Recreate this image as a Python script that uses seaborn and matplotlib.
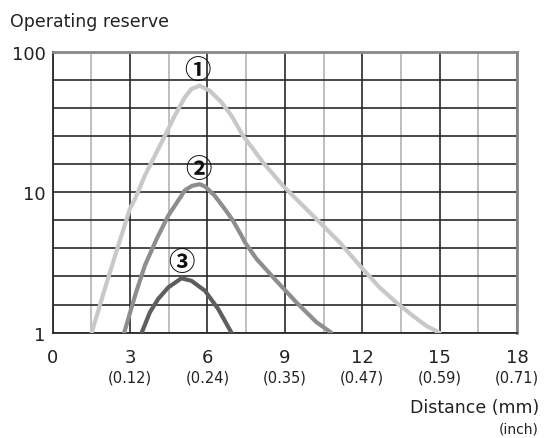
import numpy as np
import pandas as pd
import matplotlib
matplotlib.use("Agg")
import matplotlib.pyplot as plt
import matplotlib.transforms as mtransforms
import seaborn as sns

# ---- data ----
c1_x = [1.51, 2.02, 2.54, 2.99, 3.19, 3.57, 3.96, 4.35, 4.73, 5.12, 5.38, 5.70, 6.09, 6.54, 6.93,
        7.38, 7.77, 8.15, 8.93, 9.70, 10.48, 11.12, 12.02, 12.67, 13.32, 13.96, 14.48, 14.99]
c1_y = [1.00, 2.05, 4.16, 7.59, 8.95, 13.1, 18.2, 25.2, 35.0, 47.3, 54.3, 57.3, 52.7, 43.7, 35.0,
        25.2, 20.3, 16.3, 11.1, 8.02, 5.78, 4.40, 2.84, 2.10, 1.64, 1.32, 1.12, 1.00]

c2_x = [2.77, 3.19, 3.57, 4.03, 4.48, 4.99, 5.12, 5.40, 5.70, 5.90, 6.28, 6.67, 6.98, 7.32, 7.45,
        7.90, 8.67, 9.45, 10.22, 10.80]
c2_y = [1.00, 1.83, 3.00, 4.65, 6.81, 9.44, 10.3, 11.1, 11.4, 11.0, 9.44, 7.59, 6.31, 4.90, 4.40,
        3.35, 2.34, 1.64, 1.19, 1.00]

c3_x = [3.45, 3.77, 4.09, 4.48, 4.99, 5.38, 5.90, 6.41, 6.93]
c3_y = [1.00, 1.40, 1.74, 2.10, 2.44, 2.34, 1.99, 1.48, 1.00]

curve_names = ["①", "②", "③"]
label_x = [5.62, 5.63, 4.99]
label_y = [74.0, 14.6, 3.17]

x_ticks_mm = [0, 3, 6, 9, 12, 15, 18]
x_ticks_inch = ["", "(0.12)", "(0.24)", "(0.35)", "(0.47)", "(0.59)", "(0.71)"]
y_ticks = [1, 10, 100]
y_tick_labels = ["1", "10", "100"]

ylabel_text = "Operating reserve"
xlabel_mm = "Distance (mm)"
xlabel_inch = "(inch)"

# ---- build long-form table ----
frames = []
for name, xs, ys in zip(curve_names, [c1_x, c2_x, c3_x], [c1_y, c2_y, c3_y]):
    frames.append(pd.DataFrame({"distance": xs, "reserve": ys, "curve": name}))
df = pd.concat(frames, ignore_index=True)

sns.set_style("white")
plt.rcParams["font.family"] = ["DejaVu Sans"]

fig = plt.figure(figsize=(5.44, 4.39), dpi=100)
ax = fig.add_axes([0.0969, 0.2399, 0.9504 - 0.0969, 0.880 - 0.2399])

palette = {"①": "#c8c8c8", "②": "#8e8e8e", "③": "#5e5e5e"}
sns.lineplot(data=df, x="distance", y="reserve", hue="curve", palette=palette,
             sort=False, estimator=None, linewidth=3.0, legend=False, ax=ax,
             solid_capstyle="round", solid_joinstyle="round", zorder=3)

ax.set_yscale("log")
ax.set_xlim(0, 18)
ax.set_ylim(1, 100)

# grid
ax.set_xticks(x_ticks_mm)
ax.set_xticks(np.arange(1.5, 18, 3), minor=True)
ax.set_yticks(y_ticks)
ax.set_yticks([10 ** (k / 5) for k in range(1, 10) if k != 5], minor=True)
ax.set_yticklabels(y_tick_labels)
ax.set_xticklabels([str(v) for v in x_ticks_mm])
ax.yaxis.set_minor_formatter(matplotlib.ticker.NullFormatter())
ax.xaxis.set_minor_formatter(matplotlib.ticker.NullFormatter())

ax.grid(True, which="major", axis="both", color="#2a2a2a", linewidth=1.2, zorder=1)
ax.grid(True, which="minor", axis="y", color="#2a2a2a", linewidth=1.2, zorder=1)
ax.grid(True, which="minor", axis="x", color="#b4b4b4", linewidth=1.2, zorder=1)
ax.set_axisbelow(True)

ax.tick_params(axis="both", which="both", length=0)
ax.tick_params(axis="y", labelsize=13, pad=5, colors="#222222")
ax.tick_params(axis="x", labelsize=13, pad=11, colors="#222222")

for side in ["left", "bottom"]:
    ax.spines[side].set_color("#2a2a2a")
    ax.spines[side].set_linewidth(1.3)
for side in ["top", "right"]:
    ax.spines[side].set_color("#888888")
    ax.spines[side].set_linewidth(2.0)

ax.set_xlabel("")
ax.set_ylabel("")

# inch sub-labels
trans = mtransforms.blended_transform_factory(ax.transData, fig.transFigure)
for xv, lab in zip(x_ticks_mm, x_ticks_inch):
    if lab:
        ax.text(xv, 1 - 378 / 439, lab, transform=trans, ha="center", va="center",
                fontsize=10.5, color="#222222")

# curve markers
for name, lx, ly in zip(curve_names, label_x, label_y):
    ax.text(lx, ly, name, ha="center", va="center", fontsize=19, fontweight="bold",
            family=["Noto Sans CJK JP", "DejaVu Sans"], color="#111111", zorder=4)

fig.text(10 / 544, 1 - 22 / 439, ylabel_text, ha="left", va="center",
         fontsize=12.5, color="#222222")
fig.text(539 / 544, 1 - 408 / 439, xlabel_mm, ha="right", va="center",
         fontsize=12.5, color="#222222")
fig.text(539 / 544, 1 - 430 / 439, xlabel_inch, ha="right", va="center",
         fontsize=10, color="#222222")

fig.savefig("out.png", dpi=100)
